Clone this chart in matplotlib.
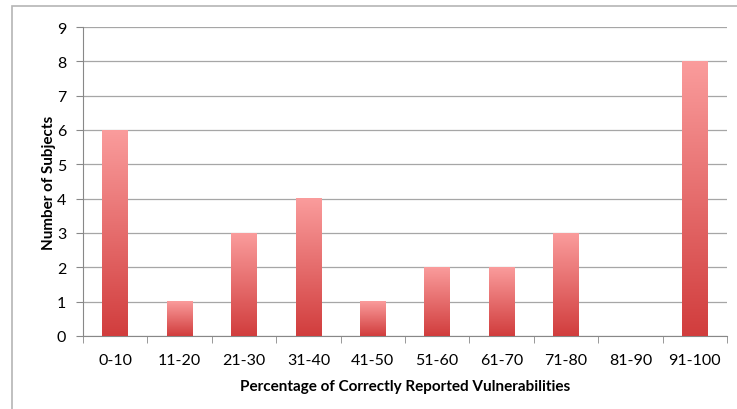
import numpy as np
import matplotlib.pyplot as plt
from matplotlib.colors import LinearSegmentedColormap
from matplotlib.patches import Rectangle

categories = ["0-10", "11-20", "21-30", "31-40", "41-50", "51-60", "61-70", "71-80", "81-90", "91-100"]
subjects = [6, 1, 3, 4, 1, 2, 2, 3, 0, 8]

plt.rcParams["font.family"] = ["Lato", "DejaVu Sans"]

fig = plt.figure(figsize=(7.37, 4.10), dpi=100)
ax = fig.add_axes([83 / 737, 1 - 337 / 410, (727 - 83) / 737, (337 - 28) / 410])

x = np.arange(len(categories))
bars = ax.bar(x, subjects, width=0.4, color="none", edgecolor="none", zorder=3)

# vertical gradient in each bar, light pink at top to red at bottom
grad_cmap = LinearSegmentedColormap.from_list("bar_grad", ["#d13d3d", "#fa9c9c"])
gradient = np.linspace(0, 1, 256).reshape(-1, 1)
for b in bars:
    h = b.get_height()
    if h <= 0:
        continue
    x0 = b.get_x()
    w = b.get_width()
    ax.imshow(gradient, cmap=grad_cmap, aspect="auto", origin="lower",
              extent=(x0, x0 + w, 0, h), zorder=3)

ax.set_xlim(-0.5, len(categories) - 0.5)
ax.set_ylim(0, 9)
ax.set_yticks(range(0, 10))
ax.set_xticks(x)
ax.set_xticklabels(categories)
ax.set_xticks(np.arange(-0.5, len(categories), 1), minor=True)
ax.tick_params(axis="x", which="major", length=0, pad=12, labelsize=11.5)
ax.tick_params(axis="x", which="minor", length=5, color="#888888", direction="out")
ax.tick_params(axis="y", length=5, color="#888888", pad=7, labelsize=11.5)

ax.grid(axis="y", color="#a6a6a6", linewidth=0.9, zorder=0)
ax.set_axisbelow(True)

for side in ["top", "right"]:
    ax.spines[side].set_visible(False)
ax.spines["left"].set_color("#888888")
ax.spines["bottom"].set_color("#888888")

ax.set_xlabel("Percentage of Correctly Reported Vulnerabilities", fontsize=11, fontweight="bold", labelpad=9)
ax.set_ylabel("Number of Subjects", fontsize=11, fontweight="bold", labelpad=1)

# outer chart border
fig.patches.append(Rectangle((12 / 737, -0.1), 1.1, 1 - 7 / 410 + 0.1, transform=fig.transFigure,
                             fill=False, edgecolor="#b5b5b5", linewidth=1.2))

plt.savefig("out.png", dpi=100)
plt.close()
